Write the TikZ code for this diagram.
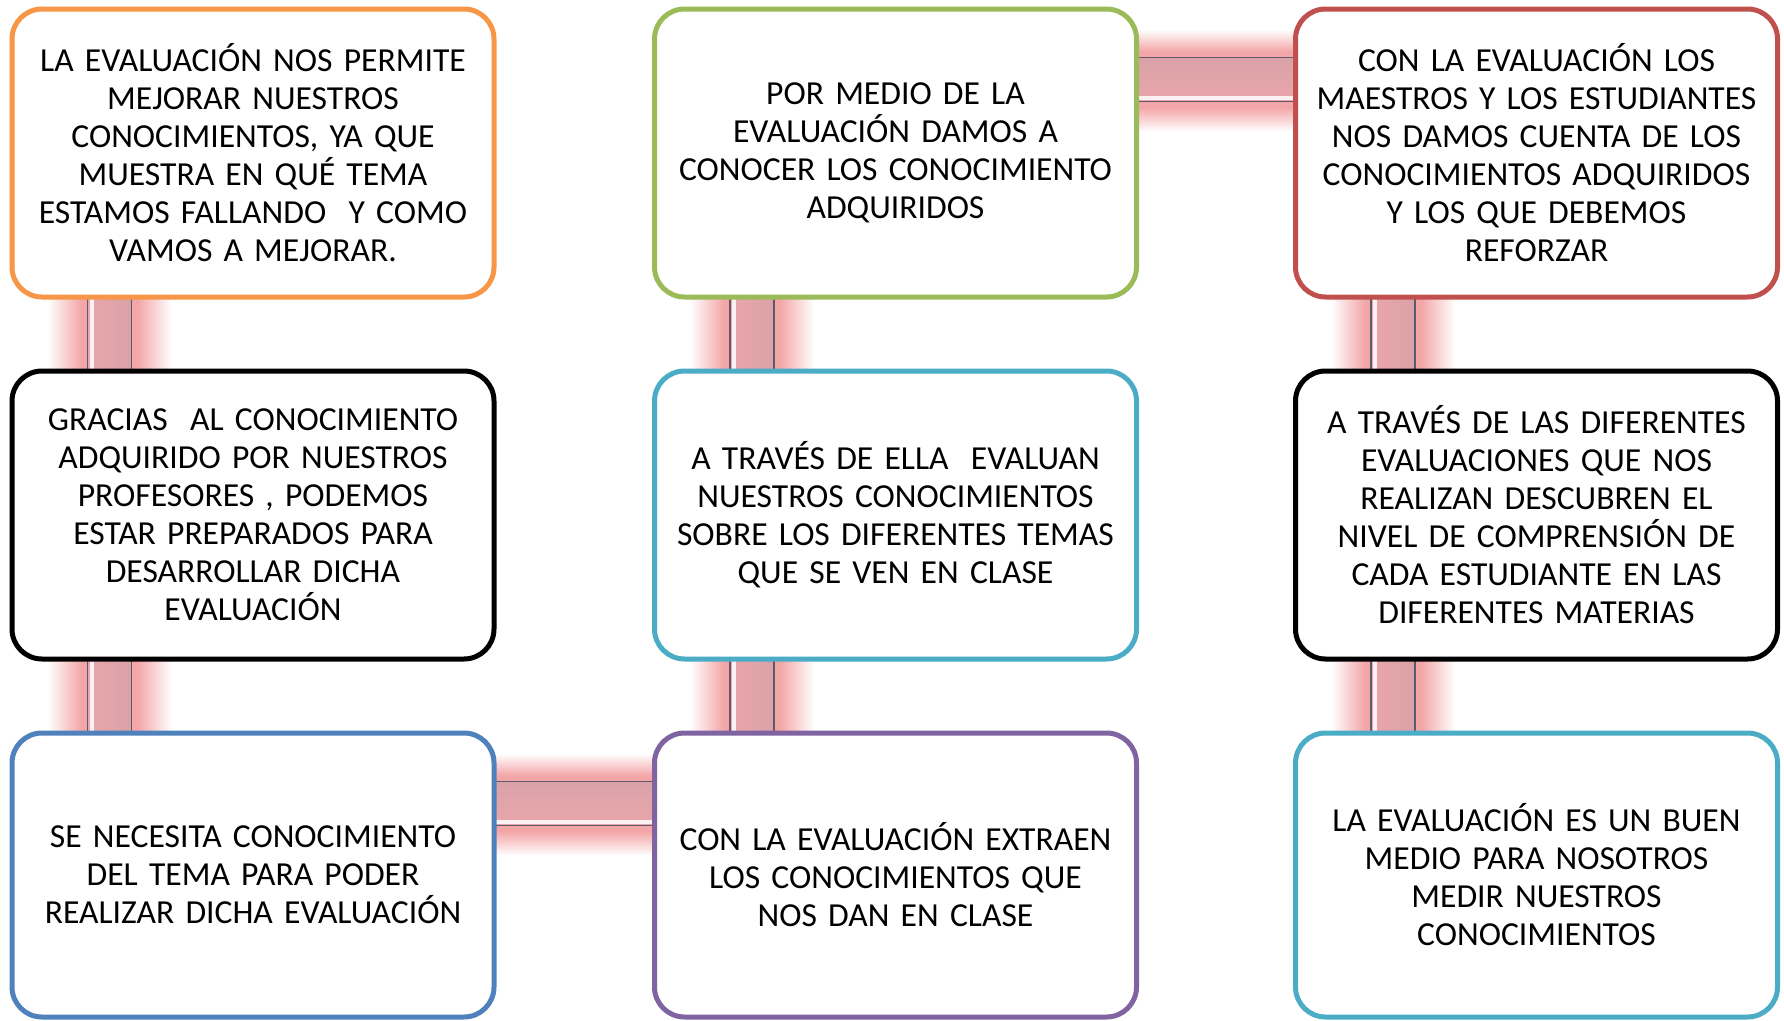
\documentclass[tikz,border=0pt]{standalone}
\usepackage{fontspec}
\setmainfont{Carlito}
\usetikzlibrary{calc,backgrounds}
\definecolor{cOrange}{HTML}{F79646}
\definecolor{cGreen}{HTML}{9BBB59}
\definecolor{cRed}{HTML}{C0504D}
\definecolor{cCyan}{HTML}{4BACC6}
\definecolor{cBlue}{HTML}{4F81BD}
\definecolor{cPurple}{HTML}{8064A2}
\definecolor{glow}{HTML}{F3A6A8}
\definecolor{band}{HTML}{EAA6AB}
\definecolor{bandDark}{HTML}{D9A2A8}
\definecolor{bandLine}{HTML}{5E5A68}
\tikzset{
  box/.style={draw=#1, line width=5pt, rounded corners=30pt, fill=white,
    minimum width=482pt, minimum height=288pt, inner sep=0pt, align=center,
    text width=470pt, text=black, font=\fontsize{33.6}{38}\selectfont},
  lowbox/.style={box=#1, minimum height=284pt},
  bline/.style={draw=bandLine, line width=1.3pt}
}
\newcommand{\vlink}[2]{%
  \coordinate (t) at ($(#1.south west)+(100,-3)$);
  \coordinate (b) at ($(#2.north west)+(100,3)$);
  \shade[left color=white, right color=glow] ($(t)+(-62,0)$) rectangle ($(b)+(-28,0)$);
  \fill[glow] ($(t)+(-28,0)$) rectangle ($(b)+(28,0)$);
  \shade[left color=glow, right color=white] ($(t)+(28,0)$) rectangle ($(b)+(62,0)$);
  \shade[left color=band, right color=bandDark] ($(t)+(-22,0)$) rectangle ($(b)+(22,0)$);
  \fill[white, opacity=0.85] ($(t)+(-20,0)$) rectangle ($(b)+(-16,0)$);
  \draw[bline] ($(t)+(-22,0)$) -- ($(b)+(-22,0)$);
  \draw[bline] ($(t)+(22,0)$) -- ($(b)+(22,0)$);
}
\newcommand{\hlink}[2]{%
  \coordinate (l) at ($(#1.north east)+(-3,73)$);
  \coordinate (r) at ($(#2.north west)+(3,73)$);
  \shade[top color=white, bottom color=glow] ($(l)+(0,-50)$) rectangle ($(r)+(0,-28)$);
  \fill[glow] ($(l)+(0,-28)$) rectangle ($(r)+(0,28)$);
  \shade[top color=glow, bottom color=white] ($(l)+(0,28)$) rectangle ($(r)+(0,52)$);
  \shade[top color=bandDark, bottom color=band] ($(l)+(0,-22)$) rectangle ($(r)+(0,22)$);
  \fill[white, opacity=0.85] ($(l)+(0,16)$) rectangle ($(r)+(0,20)$);
  \draw[bline] ($(l)+(0,-22)$) -- ($(r)+(0,-22)$);
  \draw[bline] ($(l)+(0,22)$) -- ($(r)+(0,22)$);
}
\begin{document}
\begin{tikzpicture}[x=1pt, y=-1pt]
\useasboundingbox (0,0) rectangle (1784,1020);
\node[box=cOrange] (b1) at (253,153) {LA EVALUACIÓN NOS PERMITE\\MEJORAR NUESTROS\\CONOCIMIENTOS, YA QUE\\MUESTRA EN QUÉ TEMA\\ESTAMOS FALLANDO\ \ Y COMO\\VAMOS A MEJORAR.};
\node[box=cGreen] (b2) at (895.5,153) {POR MEDIO DE LA\\EVALUACIÓN DAMOS A\\CONOCER LOS CONOCIMIENTO\\ADQUIRIDOS};
\node[box=cRed] (b3) at (1536.5,153) {CON LA EVALUACIÓN LOS\\MAESTROS Y LOS ESTUDIANTES\\NOS DAMOS CUENTA DE LOS\\CONOCIMIENTOS ADQUIRIDOS\\Y LOS QUE DEBEMOS\\REFORZAR};
\node[box=black] (b4) at (253,515) {GRACIAS\ \ AL CONOCIMIENTO\\ADQUIRIDO POR NUESTROS\\PROFESORES , PODEMOS\\ESTAR PREPARADOS PARA\\DESARROLLAR DICHA\\EVALUACIÓN};
\node[box=cCyan] (b5) at (895.5,515) {A TRAVÉS DE ELLA\ \ EVALUAN\\NUESTROS CONOCIMIENTOS\\SOBRE LOS DIFERENTES TEMAS\\QUE SE VEN EN CLASE};
\node[box=black] (b6) at (1536.5,515) {A TRAVÉS DE LAS DIFERENTES\\EVALUACIONES QUE NOS\\REALIZAN DESCUBREN EL\\NIVEL DE COMPRENSIÓN DE\\CADA ESTUDIANTE EN LAS\\DIFERENTES MATERIAS};
\node[lowbox=cBlue] (b7) at (253,875) {SE NECESITA CONOCIMIENTO\\DEL TEMA PARA PODER\\REALIZAR DICHA EVALUACIÓN};
\node[lowbox=cPurple] (b8) at (895.5,875) {CON LA EVALUACIÓN EXTRAEN\\LOS CONOCIMIENTOS QUE\\NOS DAN EN CLASE};
\node[lowbox=cCyan] (b9) at (1536.5,875) {LA EVALUACIÓN ES UN BUEN\\MEDIO PARA NOSOTROS\\MEDIR NUESTROS\\CONOCIMIENTOS};
\begin{scope}[on background layer]
  \vlink{b1}{b4}
  \vlink{b4}{b7}
  \vlink{b2}{b5}
  \vlink{b5}{b8}
  \vlink{b3}{b6}
  \vlink{b6}{b9}
  \hlink{b2}{b3}
  \hlink{b7}{b8}
\end{scope}
\end{tikzpicture}
\end{document}
